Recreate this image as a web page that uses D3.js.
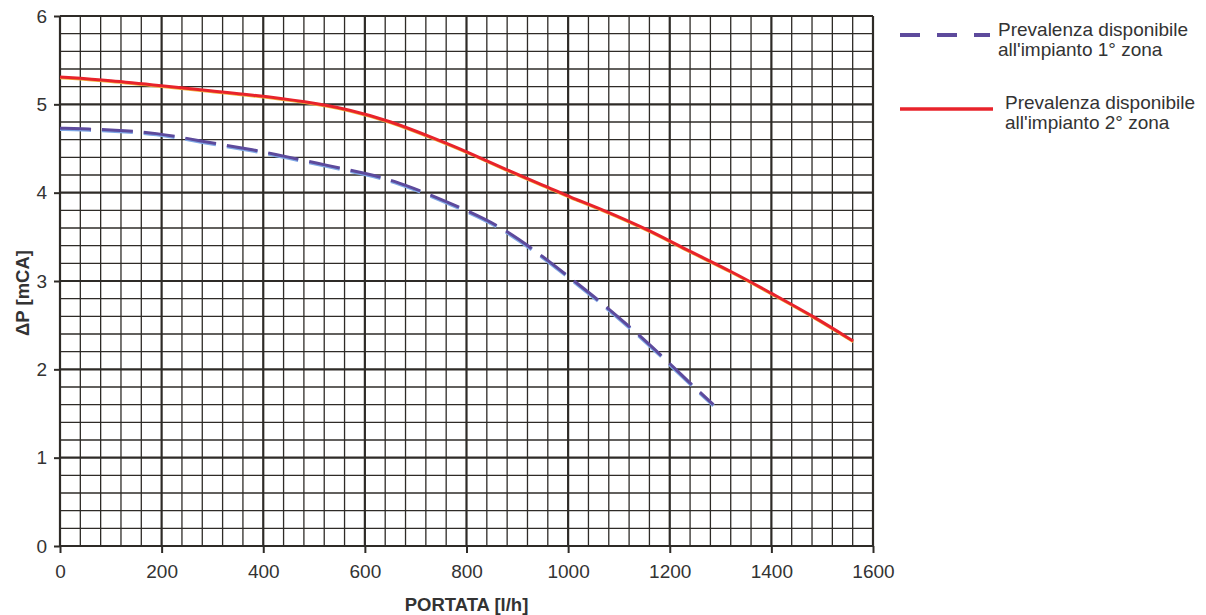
<!DOCTYPE html>
<html>
<head>
<meta charset="utf-8">
<script src="https://cdn.jsdelivr.net/npm/d3@7"></script>
<style>
  body { margin: 0; background: #fff; }
  svg { display: block; font-family: "Liberation Sans", Arial, sans-serif; }
</style>
</head>
<body>
<svg id="chart"></svg>
<script>
// curve 1° zona (dashed)
var flowZone1 = [0, 60, 100, 190, 280, 387, 443, 525, 600, 656, 732, 800, 866, 939, 1014, 1063, 1158, 1224, 1286];
var dpZone1   = [4.73, 4.72, 4.71, 4.68, 4.58, 4.48, 4.41, 4.31, 4.22, 4.14, 3.97, 3.80, 3.62, 3.33, 2.99, 2.77, 2.30, 1.93, 1.60];
// curve 2° zona (solid)
var flowZone2 = [0, 100, 200, 300, 374, 486, 571, 650, 735, 807, 886, 965, 1004, 1063, 1162, 1227, 1325, 1400, 1483, 1561];
var dpZone2   = [5.31, 5.27, 5.21, 5.15, 5.11, 5.03, 4.94, 4.81, 4.62, 4.45, 4.24, 4.05, 3.95, 3.82, 3.57, 3.37, 3.10, 2.86, 2.60, 2.32];

var xTicks = [0, 200, 400, 600, 800, 1000, 1200, 1400, 1600];
var yTicks = [0, 1, 2, 3, 4, 5, 6];
var legendLabels = [
  ["Prevalenza disponibile", "all'impianto 1° zona"],
  ["Prevalenza disponibile", "all'impianto 2° zona"]
];

const width = 1206, height = 615;
const margin = {top: 16, right: 333, bottom: 69, left: 60};

var svg = d3.select("#chart")
  .attr("width", width)
  .attr("height", height)
  .attr("viewBox", [0, 0, width, height]);

var x = d3.scaleLinear().domain([0, 1600]).range([margin.left, width - margin.right]);
var y = d3.scaleLinear().domain([0, 6]).range([height - margin.bottom, margin.top]);

const grid = svg.append("g");
// minor grid: 40 l/h and 0.2 mCA, heavier every 200 l/h and 1 mCA
grid.selectAll("line.v")
  .data(d3.range(0, 1601, 40))
  .join("line")
  .attr("x1", d => x(d)).attr("x2", d => x(d))
  .attr("y1", y(0)).attr("y2", y(6))
  .attr("stroke", "#2e2b27")
  .attr("stroke-width", d => d % 200 == 0 ? 2.2 : 1.3);
grid.selectAll("line.h")
  .data(d3.range(0, 31).map(i => i * 0.2))
  .join("line")
  .attr("y1", d => y(d)).attr("y2", d => y(d))
  .attr("x1", x(0)).attr("x2", x(1600))
  .attr("stroke", "#2e2b27")
  .attr("stroke-width", (d, i) => i % 5 == 0 ? 2.2 : 1.3);

// axes
var xAxis = svg.append("g")
  .attr("transform", `translate(0,${y(0)})`)
  .call(d3.axisBottom(x).tickValues(xTicks).tickFormat(d3.format("d")).tickSize(7).tickPadding(12));
var yAxis = svg.append("g")
  .attr("transform", `translate(${x(0)},0)`)
  .call(d3.axisLeft(y).tickValues(yTicks).tickFormat(d3.format("d")).tickSize(6).tickPadding(7));
[xAxis, yAxis].forEach(a => {
  a.select(".domain").remove();
  a.selectAll(".tick line").attr("stroke", "#2e2b27").attr("stroke-width", 2);
  a.selectAll(".tick text")
    .attr("fill", "#333")
    .style("font-size", "19px")
    .style("font-family", "'Liberation Sans', Arial, sans-serif");
});

svg.append("text")
  .attr("x", (x(0) + x(1600)) / 2)
  .attr("y", 611)
  .attr("text-anchor", "middle")
  .attr("fill", "#333")
  .style("font-size", "18.5px")
  .style("font-weight", "bold")
  .text("PORTATA [l/h]");

svg.append("text")
  .attr("transform", "translate(29,293) rotate(-90)")
  .attr("text-anchor", "middle")
  .attr("fill", "#333")
  .style("font-size", "18.5px")
  .style("font-weight", "bold")
  .text("ΔP [mCA]");

// curves
var line = d3.line()
  .x(d => x(d[0]))
  .y(d => y(d[1]))
  .curve(d3.curveBasis);

var zone1 = d3.zip(flowZone1, dpZone1);
var zone2 = d3.zip(flowZone2, dpZone2);

const dash = "31,11";
svg.append("path")
  .datum(zone1)
  .attr("fill", "none")
  .attr("stroke", "#7fa8e6")
  .attr("stroke-width", 3.5)
  .attr("stroke-dasharray", dash)
  .attr("transform", "translate(0,1)")
  .attr("d", line);
svg.append("path")
  .datum(zone1)
  .attr("fill", "none")
  .attr("stroke", "#5d4a9c")
  .attr("stroke-width", 3)
  .attr("stroke-dasharray", dash)
  .attr("d", line);

svg.append("path")
  .datum(zone2)
  .attr("fill", "none")
  .attr("stroke", "#f2b23a")
  .attr("stroke-width", 2)
  .attr("transform", "translate(0,1.2)")
  .attr("d", line);
svg.append("path")
  .datum(zone2)
  .attr("fill", "none")
  .attr("stroke", "#e8232b")
  .attr("stroke-width", 3)
  .attr("d", line);

// legend
var legend = svg.append("g");
legend.append("line")
  .attr("x1", 900).attr("x2", 990).attr("y1", 35).attr("y2", 35)
  .attr("stroke", "#5d4a9c").attr("stroke-width", 4)
  .attr("stroke-dasharray", "20,17");
legend.append("line")
  .attr("x1", 900).attr("x2", 993).attr("y1", 109).attr("y2", 109)
  .attr("stroke", "#e8232b").attr("stroke-width", 3.5);

var legendPos = [{x: 998, y: 36}, {x: 1005, y: 109}];
legendLabels.forEach((lines, i) => {
  var t = legend.append("text")
    .attr("x", legendPos[i].x)
    .attr("y", legendPos[i].y)
    .attr("fill", "#333")
    .style("font-size", "19px");
  lines.forEach((s, j) => {
    t.append("tspan")
      .attr("x", legendPos[i].x)
      .attr("dy", j == 0 ? 0 : 19.5)
      .text(s);
  });
});
</script>
</body>
</html>
